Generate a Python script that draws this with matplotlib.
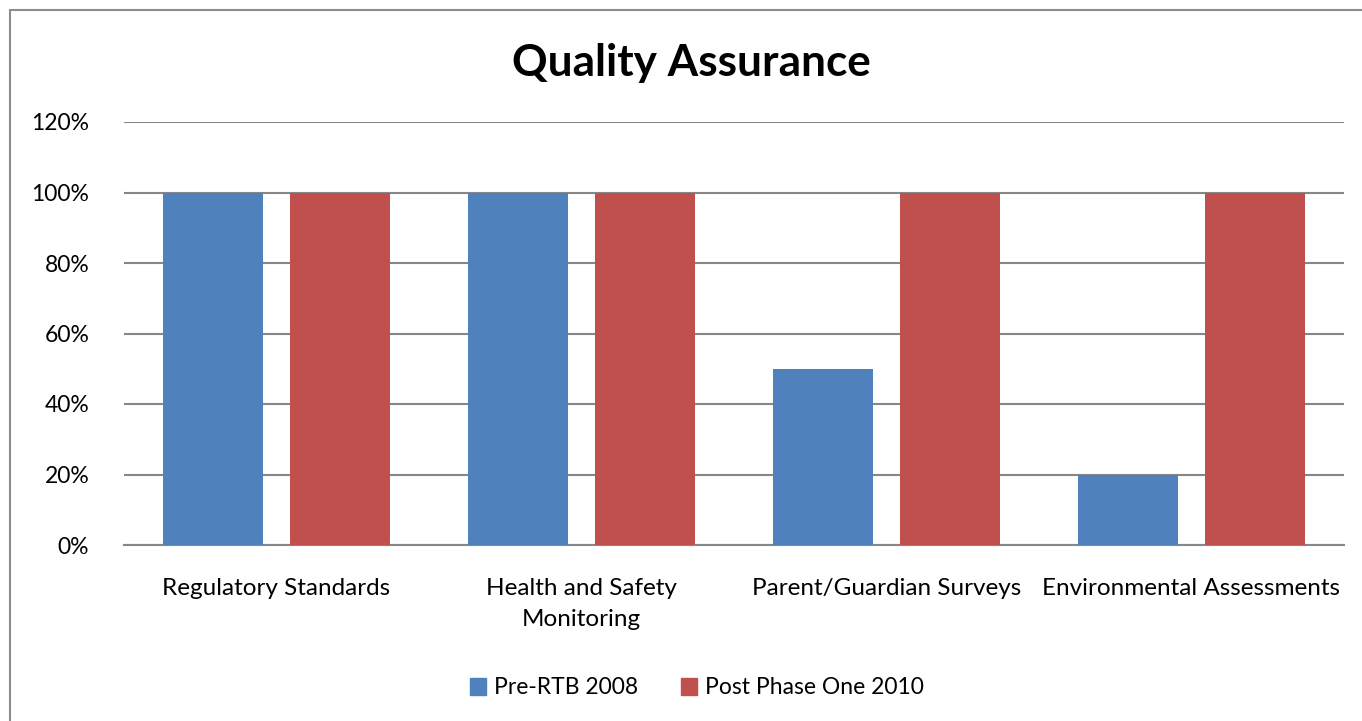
import numpy as np
import matplotlib.pyplot as plt
from matplotlib.patches import Rectangle, Patch

plt.rcParams['font.family'] = ['Lato', 'DejaVu Sans']

categories = ['Regulatory Standards', 'Health and Safety\nMonitoring',
              'Parent/Guardian Surveys', 'Environmental Assessments']
pre_rtb = [1.0, 1.0, 0.5, 0.2]
post_phase = [1.0, 1.0, 1.0, 1.0]
series_names = ['Pre-RTB 2008', 'Post Phase One 2010']
yticks = [0, 0.2, 0.4, 0.6, 0.8, 1.0, 1.2]

blue = '#4F81BD'
red = '#C0504D'
grid_c = '#878787'

fig = plt.figure(figsize=(13.62, 7.21), dpi=100)
ax = fig.add_axes([124/1362, 1-545/721, (1344-124)/1362, (545-122)/721])

x = np.arange(len(categories))
w = 0.33
off = 0.208
ax.bar(x - off, pre_rtb, w, color=blue, zorder=3)
ax.bar(x + off, post_phase, w, color=red, zorder=3)

ax.set_xlim(-0.5, len(categories) - 0.5)
ax.set_ylim(0, 1.2)
ax.set_yticks(yticks)
ax.set_yticklabels(['%d%%' % round(v * 100) for v in yticks], fontsize=16.5)
ax.set_xticks(x)
ax.set_xticklabels(categories, fontsize=17.5, linespacing=1.55)
ax.tick_params(axis='both', length=0, colors='black')
ax.tick_params(axis='y', pad=25)
ax.tick_params(axis='x', pad=24)
for s in ['top', 'right', 'left']:
    ax.spines[s].set_visible(False)
ax.spines['bottom'].set_color(grid_c)
ax.spines['bottom'].set_linewidth(1.5)
ax.yaxis.grid(True, color=grid_c, linewidth=1.5, zorder=0)
ax.set_axisbelow(True)

fig.text(691/1362, 1-63/721, 'Quality Assurance', fontsize=31.8, fontweight='bold',
         ha='center', va='center')

handles = [Patch(color=blue), Patch(color=red)]
fig.legend(handles, series_names, loc='center', bbox_to_anchor=(697/1362, 1-688/721),
           ncol=2, frameon=False, fontsize=16.5, handlelength=0.7, handleheight=0.7,
           handletextpad=0.35, columnspacing=1.9)

fig.patches.append(Rectangle((10/1362, -0.1), 1.2, 1-10/721 + 0.1, transform=fig.transFigure,
                             fill=False, edgecolor='#8c8c8c', linewidth=1.5))

fig.savefig('out.png', dpi=100)
